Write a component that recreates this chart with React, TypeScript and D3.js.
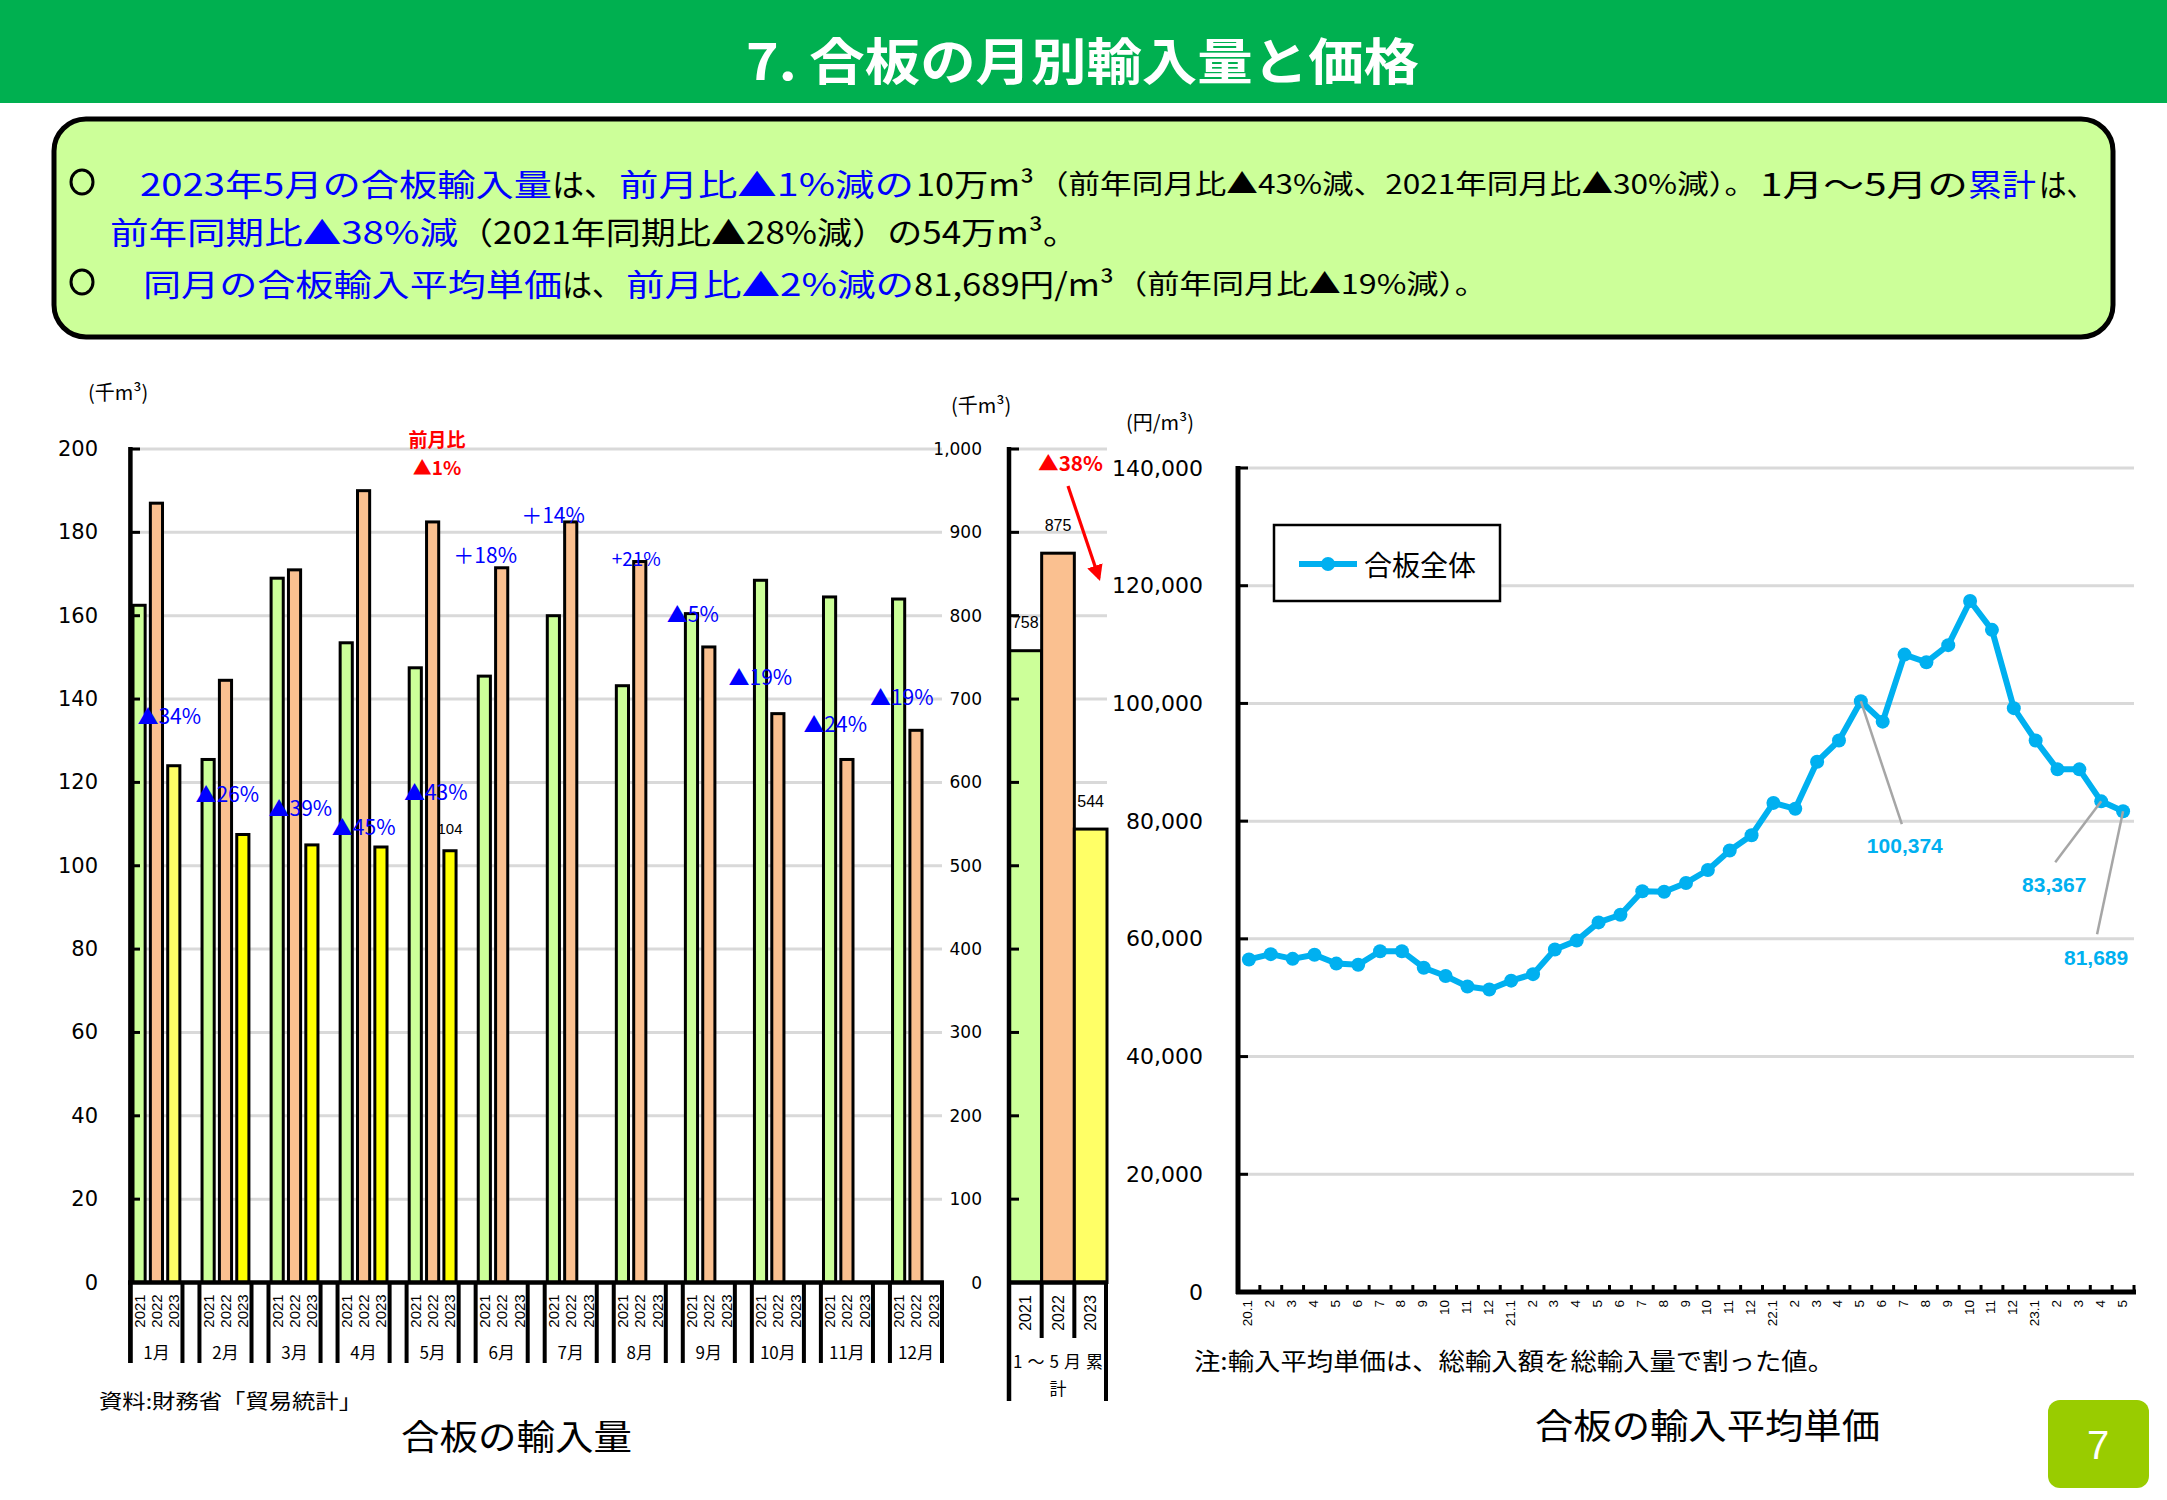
import React from 'react';
import * as d3 from 'd3';

// ---------- DATA ----------
const months = ['1月', '2月', '3月', '4月', '5月', '6月', '7月', '8月', '9月', '10月', '11月', '12月'];
const years = ['2021', '2022', '2023'];
const vol2021 = [162.5, 125.5, 169, 153.5, 147.5, 145.5, 160, 143.2, 160.5, 168.5, 164.5, 164];
const vol2022 = [187, 144.5, 171, 190, 182.5, 171.5, 182.5, 173, 152.5, 136.5, 125.5, 132.5];
const vol2023 = [124, 107.5, 105, 104.5, 103.6];
const yoyLabels = ['▲34%', '▲26%', '▲39%', '▲45%', '▲43%', '＋18%', '＋14%', '+21%', '▲5%', '▲19%', '▲24%', '▲19%'];
const cumYears = ['2021', '2022', '2023'];
const cumValues = [758, 875, 544];
const cumChangeLabel = '▲38%';
const latestLabel = '104';

const priceTicks = [
  '20.1', '2', '3', '4', '5', '6', '7', '8', '9', '10', '11', '12',
  '21.1', '2', '3', '4', '5', '6', '7', '8', '9', '10', '11', '12',
  '22.1', '2', '3', '4', '5', '6', '7', '8', '9', '10', '11', '12',
  '23.1', '2', '3', '4', '5',
];
const priceValues = [
  56500, 57400, 56600, 57300, 55800, 55600, 57900, 57900, 55100, 53700, 51900, 51400,
  52900, 54000, 58200, 59700, 62800, 64100, 68100, 68000, 69500, 71700, 75000, 77600,
  83100, 82100, 90100, 93700, 100374, 96900, 108300, 107000, 109900, 117400, 112500, 99200,
  93700, 88800, 88800, 83367, 81689,
];
const priceCallouts = [28, 39, 40];

// ---------- LAYOUT (annotation placement in data units) ----------
const yoyPos: [number, number][] = [
  [7, 136.1], [-4, 117.5], [0, 114.2], [-5.7, 109.5], [-2.7, 117.9], [-22.3, 174.8],
  [-23.5, 184.4], [-2, 173.9], [-16, 160.7], [-23.3, 145.5], [-17.5, 134.3], [-20, 140.7],
];
const calloutOffsets: { lx: number; ly: number; ex: number; ey: number }[] = [
  { lx: 44, ly: 144, ex: 41, ey: 123 },
  { lx: -47, ly: 83, ex: -46, ey: 61 },
  { lx: -27, ly: 146, ex: -26, ey: 123 },
];

const JP = '"Noto Sans CJK JP", "Noto Sans", sans-serif';
const NUM = '"DejaVu Sans", sans-serif';
const ARIAL = '"Liberation Sans", Arial, sans-serif';
const BLUE = '#0000ff';

type Seg = { t: string; x0: number; x1: number; c?: string; s?: number };
const summaryLines: { y: number; segs: Seg[] }[] = [
  {
    y: 182,
    segs: [
      { t: '2023年5月の合板輸入量', x0: 140, x1: 552, c: BLUE },
      { t: 'は、', x0: 552, x1: 616 },
      { t: '前月比▲1%減の', x0: 619, x1: 914, c: BLUE },
      { t: '10万m³', x0: 916, x1: 1034 },
      { t: '（前年同月比▲43%減、2021年同月比▲30%減）。', x0: 1037, x1: 1756, s: 27 },
      { t: '1月～5月の', x0: 1760, x1: 1968 },
      { t: '累計', x0: 1968, x1: 2036, c: BLUE },
      { t: 'は、', x0: 2039, x1: 2094 },
    ],
  },
  {
    y: 230,
    segs: [
      { t: '前年同期比▲38%減', x0: 110, x1: 458, c: BLUE },
      { t: '（2021年同期比▲28%減）の54万m³。', x0: 458, x1: 1078 },
    ],
  },
  {
    y: 282,
    segs: [
      { t: '同月の合板輸入平均単価', x0: 143, x1: 562, c: BLUE },
      { t: 'は、', x0: 562, x1: 622 },
      { t: '前月比▲2%減の', x0: 626, x1: 914, c: BLUE },
      { t: '81,689円/m³', x0: 914, x1: 1114 },
      { t: '（前年同月比▲19%減）。', x0: 1115, x1: 1487, s: 27 },
    ],
  },
];
const bulletLines = [182, 282];

export default function App() {
  const W = 2167;
  const H = 1500;

  // Left: monthly volumes
  const yL = d3.scaleLinear().domain([0, 200]).range([1282.5, 449]);
  const xM = d3.scaleBand<string>().domain(months).range([130.4, 942]).paddingInner(0.246).paddingOuter(0);
  const bw = xM.bandwidth();
  const xY = d3.scaleBand<string>().domain(years).range([0, bw]).padding(0);
  const sw = xY.bandwidth();
  const series = [vol2021, vol2022, vol2023];
  const fillFor = (yi: number, mi: number) =>
    yi === 0 ? '#ccff99' : yi === 1 ? '#fac090' : mi === 0 ? '#ffff66' : '#ffff00';

  // Cumulative
  const yC = d3.scaleLinear().domain([0, 1000]).range([1282.5, 449]);
  const xC = d3.scaleBand<string>().domain(cumYears).range([1009, 1107]).padding(0);
  const cumFill = ['#ccff99', '#fac090', '#ffff66'];

  // Price
  const yP = d3.scaleLinear().domain([0, 140000]).range([1292, 468]);
  const xP = d3.scaleBand<number>().domain(d3.range(priceValues.length)).range([1238, 2134]).padding(0);
  const pcx = (i: number) => (xP(i) as number) + xP.bandwidth() / 2;
  const line = d3.line<number>().x((_, i) => pcx(i)).y((v) => yP(v));
  const fmt = d3.format(',');

  return (
    <svg width={W} height={H} style={{ position: 'absolute', left: 0, top: 0, background: '#fff' }}>
      <rect x={0} y={0} width={W} height={H} fill="#fff" />
      {/* Title bar */}
      <rect x={0} y={0} width={W} height={103} fill="#00b050" />
      <text x={746} y={58} textLength={673} lengthAdjust="spacingAndGlyphs" fill="#fff" fontFamily={JP}
        fontWeight={700} fontSize={50} dominantBaseline="central">7. 合板の月別輸入量と価格</text>

      {/* Summary box */}
      <rect x={54} y={119} width={2059} height={218} rx={32} ry={32} fill="#ccff99" stroke="#000" strokeWidth={5} />
      {bulletLines.map((y) => (
        <ellipse key={`bl${y}`} cx={82} cy={y} rx={11} ry={12} fill="none" stroke="#000" strokeWidth={3} />
      ))}
      {summaryLines.map((ln, li) =>
        ln.segs.map((s, si) => (
          <text key={`s${li}-${si}`} x={s.x0} y={ln.y} textLength={s.x1 - s.x0} lengthAdjust="spacingAndGlyphs"
            fontFamily={JP} fontSize={s.s || 31} fill={s.c || '#000'} dominantBaseline="central">{s.t}</text>
        ))
      )}

      {/* ===== Left chart ===== */}
      <text x={88} y={391} fontFamily={JP} fontSize={20} dominantBaseline="central">(千m³)</text>
      {yL.ticks(10).map((t) => (
        <g key={`gl${t}`}>
          {t > 0 && <line x1={130} x2={942} y1={yL(t)} y2={yL(t)} stroke="#d9d9d9" strokeWidth={3} />}
          <text x={98} y={yL(t)} textAnchor="end" dominantBaseline="central" fontFamily={NUM} fontSize={21}>{t}</text>
        </g>
      ))}
      {months.map((m, mi) =>
        series.map((vals, yi) => {
          const v = vals[mi];
          if (v === undefined) return null;
          const x = (xM(m) as number) + (xY(years[yi]) as number) + 2.6;
          return (
            <rect key={`b${mi}-${yi}`} x={x} y={yL(v)} width={sw - 5.2} height={yL(0) - yL(v)}
              fill={fillFor(yi, mi)} stroke="#000" strokeWidth={3} />
          );
        })
      )}
      {/* axes */}
      <line x1={130.4} x2={130.4} y1={447} y2={1363} stroke="#000" strokeWidth={4.5} />
      {yL.ticks(10).map((t) => (
        <line key={`tk${t}`} x1={130} x2={140} y1={yL(t)} y2={yL(t)} stroke="#000" strokeWidth={3} />
      ))}
      <line x1={128} x2={944} y1={1282.5} y2={1282.5} stroke="#000" strokeWidth={4.5} />
      {months.map((m) => (
        <g key={`sep${m}`}>
          <line x1={xM(m) as number} x2={xM(m) as number} y1={1282} y2={1363} stroke="#000" strokeWidth={4} />
          <line x1={(xM(m) as number) + bw} x2={(xM(m) as number) + bw} y1={1282} y2={1363} stroke="#000" strokeWidth={4} />
          {years.map((y) => {
            const cx = (xM(m) as number) + (xY(y) as number) + sw / 2;
            return (
              <text key={y} transform={`translate(${cx},${1311}) rotate(-90)`} textAnchor="middle"
                dominantBaseline="central" fontFamily={ARIAL} fontSize={15}>{y}</text>
            );
          })}
          <text x={(xM(m) as number) + bw / 2} y={1351} textAnchor="middle" dominantBaseline="central"
            fontFamily={JP} fontSize={17}>{m}</text>
        </g>
      ))}
      {/* yoy annotations */}
      {yoyLabels.map((lab, i) => (
        <text key={`yoy${i}`} x={(xM(months[i]) as number) + yoyPos[i][0]} y={yL(yoyPos[i][1])}
          dominantBaseline="central" fontFamily={JP} fontSize={i === 7 ? 19 : 21} fill={BLUE}>{lab}</text>
      ))}
      <text x={437} y={438} textAnchor="middle" dominantBaseline="central" fontFamily={JP} fontWeight={700}
        fontSize={19} fill="#ff0000">前月比</text>
      <text x={437} y={466} textAnchor="middle" dominantBaseline="central" fontFamily={JP} fontWeight={700}
        fontSize={19} fill="#ff0000">▲1%</text>
      <text x={(xM(months[4]) as number) + (xY('2023') as number) + sw / 2} y={yL(vol2023[4]) - 22}
        textAnchor="middle" dominantBaseline="central" fontFamily={ARIAL} fontSize={15}>{latestLabel}</text>

      {/* ===== Cumulative panel ===== */}
      <text x={951} y={404} fontFamily={JP} fontSize={20} dominantBaseline="central">(千m³)</text>
      {yC.ticks(10).map((t) => (
        <g key={`gc${t}`}>
          {t > 0 && <line x1={1009} x2={1107} y1={yC(t)} y2={yC(t)} stroke="#d9d9d9" strokeWidth={3} />}
          <text x={982} y={yC(t)} textAnchor="end" dominantBaseline="central" fontFamily={NUM} fontSize={17}>{fmt(t)}</text>
        </g>
      ))}
      {cumYears.map((y, i) => (
        <g key={`cb${y}`}>
          <rect x={xC(y) as number} y={yC(cumValues[i])} width={xC.bandwidth()} height={yC(0) - yC(cumValues[i])}
            fill={cumFill[i]} stroke="#000" strokeWidth={3} />
          <text x={(xC(y) as number) + xC.bandwidth() / 2} y={yC(cumValues[i]) - 28} textAnchor="middle"
            dominantBaseline="central" fontFamily={ARIAL} fontSize={16}>{cumValues[i]}</text>
        </g>
      ))}
      <line x1={1009} x2={1009} y1={447} y2={1401} stroke="#000" strokeWidth={4.5} />
      {yC.ticks(10).map((t) => (
        <line key={`ct${t}`} x1={1009} x2={1019} y1={yC(t)} y2={yC(t)} stroke="#000" strokeWidth={3} />
      ))}
      <line x1={1007} x2={1108} y1={1282.5} y2={1282.5} stroke="#000" strokeWidth={4.5} />
      <line x1={1106} x2={1106} y1={1282} y2={1401} stroke="#000" strokeWidth={4} />
      {cumYears.slice(1).map((y) => (
        <line key={`cs${y}`} x1={xC(y) as number} x2={xC(y) as number} y1={1282} y2={1338} stroke="#000" strokeWidth={4} />
      ))}
      {cumYears.map((y) => (
        <text key={`cy${y}`} transform={`translate(${(xC(y) as number) + xC.bandwidth() / 2},${1313}) rotate(-90)`}
          textAnchor="middle" dominantBaseline="central" fontFamily={ARIAL} fontSize={16}>{y}</text>
      ))}
      <text x={1058} y={1360} textAnchor="middle" dominantBaseline="central" fontFamily={JP} fontSize={17}
        textLength={90} lengthAdjust="spacing">1～5月累</text>
      <text x={1058} y={1387} textAnchor="middle" dominantBaseline="central" fontFamily={JP} fontSize={17}>計</text>
      <text x={1038} y={462} dominantBaseline="central" fontFamily={JP} fontWeight={700} fontSize={20}
        fill="#ff0000" textLength={65} lengthAdjust="spacingAndGlyphs">{cumChangeLabel}</text>
      <defs>
        <marker id="arrowR" viewBox="0 0 10 10" refX="8" refY="5" markerWidth="5" markerHeight="5" orient="auto">
          <path d="M0,0 L10,5 L0,10 z" fill="#ff0000" />
        </marker>
      </defs>
      <line x1={1068} y1={486} x2={1099} y2={578} stroke="#ff0000" strokeWidth={3.2} markerEnd="url(#arrowR)" />

      <text x={99} y={1400} dominantBaseline="central" fontFamily={JP} fontSize={20} textLength={263}
        lengthAdjust="spacingAndGlyphs">資料:財務省「貿易統計」</text>
      <text x={401} y={1434} dominantBaseline="central" fontFamily={JP} fontSize={35} textLength={231}
        lengthAdjust="spacingAndGlyphs">合板の輸入量</text>

      {/* ===== Price chart ===== */}
      <text x={1126} y={421} dominantBaseline="central" fontFamily={JP} fontSize={20}>(円/m³)</text>
      {yP.ticks(7).map((t) => (
        <g key={`gp${t}`}>
          {t > 0 && <line x1={1238} x2={2134} y1={yP(t)} y2={yP(t)} stroke="#d9d9d9" strokeWidth={3} />}
          <text x={1203} y={yP(t)} textAnchor="end" dominantBaseline="central" fontFamily={NUM} fontSize={22}>{fmt(t)}</text>
        </g>
      ))}
      <line x1={1238} x2={1238} y1={466} y2={1294} stroke="#000" strokeWidth={5} />
      {yP.ticks(7).map((t) => (
        <line key={`pt${t}`} x1={1238} x2={1248} y1={yP(t)} y2={yP(t)} stroke="#000" strokeWidth={3} />
      ))}
      <line x1={1236} x2={2136} y1={1292} y2={1292} stroke="#000" strokeWidth={5} />
      {d3.range(priceValues.length + 1).map((i) => {
        const x = 1238 + i * xP.step();
        return <line key={`px${i}`} x1={x} x2={x} y1={1292} y2={1285} stroke="#000" strokeWidth={3} />;
      })}
      {priceTicks.map((t, i) => (
        <text key={`pl${i}`} transform={`translate(${pcx(i) - 1},${1300}) rotate(-90)`} textAnchor="end"
          dominantBaseline="central" fontFamily={ARIAL} fontSize={13.5}>{t}</text>
      ))}
      <path d={line(priceValues) || ''} fill="none" stroke="#00b0f0" strokeWidth={6} strokeLinejoin="round" />
      {priceValues.map((v, i) => (
        <circle key={`pc${i}`} cx={pcx(i)} cy={yP(v)} r={7} fill="#00b0f0" />
      ))}
      {priceCallouts.map((idx, k) => {
        const px = pcx(idx);
        const py = yP(priceValues[idx]);
        const o = calloutOffsets[k];
        return (
          <g key={`co${idx}`}>
            <line x1={px} y1={py} x2={px + o.ex} y2={py + o.ey} stroke="#a6a6a6" strokeWidth={2.5} />
            <text x={px + o.lx} y={py + o.ly} textAnchor="middle" dominantBaseline="central" fontFamily={ARIAL}
              fontWeight={700} fontSize={21} fill="#00b0f0">{fmt(priceValues[idx])}</text>
          </g>
        );
      })}
      {/* legend */}
      <rect x={1274} y={525} width={226} height={76} fill="#fff" stroke="#000" strokeWidth={2.5} />
      <line x1={1299} x2={1357} y1={564} y2={564} stroke="#00b0f0" strokeWidth={6} />
      <circle cx={1328} cy={564} r={7} fill="#00b0f0" />
      <text x={1364} y={564} dominantBaseline="central" fontFamily={JP} fontSize={28}>合板全体</text>

      <text x={1194} y={1359} dominantBaseline="central" fontFamily={JP} fontSize={24} textLength={640}
        lengthAdjust="spacingAndGlyphs">注:輸入平均単価は、総輸入額を総輸入量で割った値。</text>
      <text x={1535} y={1423} dominantBaseline="central" fontFamily={JP} fontSize={35} textLength={345}
        lengthAdjust="spacingAndGlyphs">合板の輸入平均単価</text>

      {/* page number */}
      <rect x={2048} y={1400} width={101} height={88} rx={12} ry={12} fill="#99cc00" />
      <text x={2098} y={1445} textAnchor="middle" dominantBaseline="central" fontFamily={ARIAL} fontSize={40}
        fill="#fff">7</text>
    </svg>
  );
}
